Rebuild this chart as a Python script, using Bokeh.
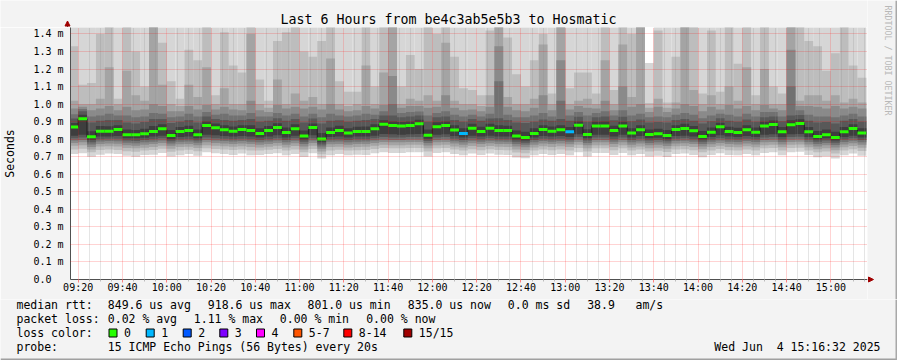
import math
from bokeh.plotting import figure
from bokeh.layouts import column, row
from bokeh.models import Range1d, FixedTicker
from bokeh.core.properties import value
from bokeh.embed import file_html
from bokeh.resources import INLINE

# ---------------- data (milliseconds) ----------------
graph_start = "09:16:32"
graph_hours = 6
first_bar = "09:16"
bar_minutes = 4

median = [0.869, 0.916, 0.814, 0.846, 0.846, 0.855, 0.825, 0.825, 0.831, 0.844,
          0.859, 0.821, 0.844, 0.850, 0.825, 0.878, 0.865, 0.854, 0.846, 0.855,
          0.850, 0.833, 0.850, 0.867, 0.838, 0.859, 0.818, 0.867, 0.801, 0.838,
          0.850, 0.835, 0.844, 0.844, 0.859, 0.886, 0.878, 0.875, 0.878, 0.888,
          0.823, 0.871, 0.878, 0.852, 0.833, 0.863, 0.844, 0.863, 0.850, 0.850,
          0.818, 0.810, 0.833, 0.855, 0.846, 0.854, 0.842, 0.880, 0.827, 0.876,
          0.876, 0.850, 0.875, 0.835, 0.854, 0.827, 0.831, 0.821, 0.855, 0.861,
          0.848, 0.816, 0.840, 0.871, 0.844, 0.838, 0.854, 0.840, 0.875, 0.884,
          0.842, 0.882, 0.890, 0.842, 0.816, 0.825, 0.810, 0.842, 0.861, 0.835]

# number of lost pings per bar
loss = [0] * 44 + [1] + [0] * 11 + [1] + [0] * 33

ping01 = [0.715, 0.720, 0.700, 0.712, 0.718, 0.715, 0.705, 0.700, 0.710, 0.712,
          0.722, 0.702, 0.708, 0.715, 0.705, 0.725, 0.720, 0.716, 0.710, 0.718,
          0.708, 0.710, 0.716, 0.720, 0.708, 0.716, 0.698, 0.720, 0.690, 0.708,
          0.715, 0.708, 0.712, 0.710, 0.720, 0.726, 0.722, 0.722, 0.726, 0.726,
          0.702, 0.722, 0.726, 0.715, 0.708, 0.718, 0.710, 0.718, 0.712, 0.710,
          0.696, 0.692, 0.708, 0.716, 0.710, 0.716, 0.708, 0.726, 0.702, 0.722,
          0.722, 0.710, 0.722, 0.708, 0.715, 0.702, 0.706, 0.698, 0.716, 0.718,
          0.710, 0.697, 0.710, 0.720, 0.710, 0.708, 0.716, 0.708, 0.722, 0.726,
          0.708, 0.726, 0.728, 0.710, 0.697, 0.702, 0.690, 0.708, 0.718, 0.706]
ping02 = [0.742, 0.745, 0.725, 0.738, 0.742, 0.738, 0.732, 0.728, 0.735, 0.738,
          0.745, 0.728, 0.736, 0.740, 0.732, 0.748, 0.744, 0.742, 0.738, 0.742,
          0.736, 0.735, 0.740, 0.744, 0.735, 0.742, 0.725, 0.744, 0.714, 0.736,
          0.740, 0.735, 0.737, 0.738, 0.744, 0.750, 0.748, 0.748, 0.750, 0.750,
          0.730, 0.748, 0.750, 0.741, 0.735, 0.743, 0.737, 0.743, 0.738, 0.737,
          0.724, 0.720, 0.735, 0.742, 0.737, 0.742, 0.736, 0.750, 0.730, 0.748,
          0.748, 0.737, 0.748, 0.735, 0.741, 0.730, 0.734, 0.727, 0.742, 0.743,
          0.737, 0.725, 0.736, 0.744, 0.737, 0.736, 0.742, 0.735, 0.748, 0.750,
          0.735, 0.750, 0.752, 0.736, 0.725, 0.730, 0.719, 0.735, 0.743, 0.733]
ping03 = [0.762, 0.766, 0.742, 0.758, 0.760, 0.758, 0.750, 0.748, 0.752, 0.756,
          0.762, 0.746, 0.755, 0.757, 0.750, 0.766, 0.762, 0.760, 0.757, 0.760,
          0.756, 0.753, 0.757, 0.762, 0.753, 0.761, 0.742, 0.762, 0.730, 0.755,
          0.757, 0.753, 0.756, 0.757, 0.762, 0.768, 0.766, 0.766, 0.768, 0.768,
          0.748, 0.766, 0.768, 0.759, 0.753, 0.761, 0.756, 0.761, 0.757, 0.756,
          0.742, 0.738, 0.753, 0.760, 0.756, 0.760, 0.755, 0.768, 0.749, 0.766,
          0.766, 0.756, 0.766, 0.753, 0.759, 0.749, 0.752, 0.745, 0.760, 0.761,
          0.756, 0.743, 0.755, 0.762, 0.756, 0.754, 0.760, 0.754, 0.766, 0.768,
          0.754, 0.768, 0.770, 0.754, 0.743, 0.749, 0.737, 0.754, 0.761, 0.752]
ping04 = [0.778, 0.782, 0.756, 0.773, 0.776, 0.774, 0.766, 0.763, 0.768, 0.772,
          0.778, 0.762, 0.771, 0.773, 0.766, 0.782, 0.778, 0.776, 0.773, 0.776,
          0.772, 0.769, 0.773, 0.778, 0.769, 0.777, 0.758, 0.778, 0.745, 0.771,
          0.773, 0.769, 0.772, 0.773, 0.778, 0.784, 0.782, 0.782, 0.784, 0.784,
          0.764, 0.782, 0.784, 0.775, 0.769, 0.777, 0.772, 0.777, 0.773, 0.772,
          0.758, 0.754, 0.769, 0.776, 0.772, 0.776, 0.771, 0.784, 0.765, 0.782,
          0.782, 0.772, 0.782, 0.769, 0.775, 0.765, 0.768, 0.761, 0.776, 0.777,
          0.772, 0.759, 0.771, 0.778, 0.772, 0.770, 0.776, 0.770, 0.782, 0.784,
          0.770, 0.784, 0.786, 0.770, 0.759, 0.765, 0.753, 0.770, 0.777, 0.768]
ping05 = [0.792, 0.796, 0.770, 0.787, 0.790, 0.788, 0.780, 0.777, 0.782, 0.786,
          0.792, 0.776, 0.785, 0.787, 0.780, 0.796, 0.792, 0.790, 0.787, 0.790,
          0.786, 0.783, 0.787, 0.792, 0.783, 0.791, 0.772, 0.792, 0.758, 0.785,
          0.787, 0.783, 0.786, 0.787, 0.792, 0.798, 0.796, 0.796, 0.798, 0.798,
          0.778, 0.796, 0.798, 0.789, 0.783, 0.791, 0.786, 0.791, 0.787, 0.786,
          0.772, 0.768, 0.783, 0.790, 0.786, 0.790, 0.785, 0.798, 0.779, 0.796,
          0.796, 0.786, 0.796, 0.783, 0.789, 0.779, 0.782, 0.775, 0.790, 0.791,
          0.786, 0.773, 0.785, 0.792, 0.786, 0.784, 0.790, 0.784, 0.796, 0.798,
          0.784, 0.798, 0.800, 0.784, 0.773, 0.779, 0.767, 0.784, 0.791, 0.782]
ping06 = [0.805, 0.810, 0.782, 0.800, 0.802, 0.802, 0.792, 0.790, 0.795, 0.800,
          0.805, 0.788, 0.798, 0.800, 0.792, 0.810, 0.806, 0.803, 0.800, 0.803,
          0.800, 0.796, 0.800, 0.806, 0.796, 0.805, 0.785, 0.806, 0.770, 0.798,
          0.800, 0.796, 0.800, 0.800, 0.805, 0.812, 0.810, 0.810, 0.812, 0.812,
          0.790, 0.810, 0.812, 0.802, 0.796, 0.805, 0.800, 0.805, 0.800, 0.800,
          0.785, 0.780, 0.796, 0.803, 0.800, 0.803, 0.798, 0.812, 0.792, 0.810,
          0.810, 0.800, 0.810, 0.796, 0.803, 0.792, 0.795, 0.788, 0.803, 0.805,
          0.800, 0.786, 0.798, 0.806, 0.800, 0.798, 0.803, 0.798, 0.810, 0.812,
          0.798, 0.812, 0.814, 0.798, 0.786, 0.792, 0.780, 0.798, 0.805, 0.796]
ping07 = [0.820, 0.825, 0.795, 0.815, 0.815, 0.818, 0.805, 0.805, 0.808, 0.815,
          0.820, 0.800, 0.812, 0.815, 0.805, 0.825, 0.822, 0.818, 0.815, 0.818,
          0.815, 0.810, 0.815, 0.822, 0.810, 0.820, 0.798, 0.822, 0.782, 0.812,
          0.815, 0.810, 0.815, 0.815, 0.820, 0.830, 0.828, 0.825, 0.828, 0.830,
          0.802, 0.825, 0.828, 0.818, 0.810, 0.820, 0.815, 0.820, 0.815, 0.815,
          0.798, 0.792, 0.810, 0.818, 0.815, 0.818, 0.812, 0.828, 0.805, 0.825,
          0.825, 0.815, 0.825, 0.810, 0.818, 0.805, 0.808, 0.800, 0.818, 0.820,
          0.815, 0.798, 0.812, 0.822, 0.815, 0.812, 0.818, 0.812, 0.825, 0.828,
          0.812, 0.828, 0.830, 0.812, 0.798, 0.805, 0.792, 0.812, 0.820, 0.810]
ping09 = [0.892, 0.940, 0.846, 0.875, 0.874, 0.880, 0.855, 0.853, 0.860, 0.875,
          0.886, 0.852, 0.870, 0.877, 0.855, 0.901, 0.890, 0.880, 0.873, 0.880,
          0.880, 0.862, 0.876, 0.891, 0.867, 0.886, 0.850, 0.890, 0.835, 0.867,
          0.877, 0.863, 0.871, 0.873, 0.886, 0.908, 0.901, 0.898, 0.901, 0.911,
          0.855, 0.896, 0.901, 0.880, 0.862, 0.888, 0.871, 0.888, 0.880, 0.877,
          0.850, 0.843, 0.862, 0.880, 0.873, 0.880, 0.870, 0.901, 0.857, 0.899,
          0.901, 0.877, 0.899, 0.863, 0.880, 0.855, 0.860, 0.853, 0.880, 0.888,
          0.875, 0.847, 0.867, 0.894, 0.871, 0.865, 0.880, 0.867, 0.899, 0.906,
          0.870, 0.908, 0.914, 0.870, 0.847, 0.855, 0.843, 0.870, 0.886, 0.863]
ping10 = [0.918, 0.960, 0.895, 0.905, 0.910, 0.910, 0.895, 0.890, 0.898, 0.915,
          0.915, 0.892, 0.900, 0.910, 0.895, 0.930, 0.915, 0.910, 0.905, 0.910,
          0.915, 0.900, 0.905, 0.920, 0.905, 0.915, 0.895, 0.918, 0.890, 0.905,
          0.908, 0.900, 0.905, 0.910, 0.915, 0.935, 0.935, 0.925, 0.930, 0.935,
          0.900, 0.925, 0.930, 0.910, 0.900, 0.915, 0.905, 0.918, 0.920, 0.910,
          0.895, 0.892, 0.900, 0.912, 0.905, 0.915, 0.905, 0.928, 0.900, 0.925,
          0.930, 0.908, 0.928, 0.902, 0.912, 0.895, 0.898, 0.895, 0.910, 0.915,
          0.905, 0.890, 0.902, 0.920, 0.905, 0.900, 0.912, 0.900, 0.925, 0.930,
          0.902, 0.935, 0.938, 0.905, 0.895, 0.898, 0.890, 0.905, 0.915, 0.900]
ping11 = [0.942, 0.972, 0.930, 0.935, 0.945, 0.935, 0.935, 0.925, 0.930, 0.950,
          0.945, 0.925, 0.930, 0.945, 0.930, 0.955, 0.940, 0.945, 0.935, 0.935,
          0.950, 0.930, 0.930, 0.950, 0.935, 0.945, 0.930, 0.945, 0.925, 0.945,
          0.935, 0.930, 0.935, 0.945, 0.940, 0.960, 1.000, 0.950, 0.955, 0.958,
          0.935, 0.950, 0.960, 0.940, 0.930, 0.940, 0.930, 0.945, 1.130, 0.940,
          0.925, 0.925, 0.935, 0.950, 0.930, 1.020, 0.935, 0.955, 0.935, 0.950,
          0.960, 0.935, 0.965, 0.935, 0.945, 0.925, 0.930, 0.925, 0.940, 0.950,
          0.940, 0.920, 0.935, 0.945, 0.940, 0.930, 0.945, 0.930, 0.955, 0.955,
          0.930, 1.100, 0.965, 0.940, 0.930, 0.930, 0.925, 0.935, 0.945, 0.930]
ping12 = [0.975, 0.985, 0.965, 0.975, 0.990, 0.965, 0.985, 0.965, 0.970, 1.000,
          0.990, 0.960, 0.960, 0.990, 0.970, 0.995, 0.970, 0.985, 0.970, 0.965,
          1.020, 0.965, 0.955, 0.995, 0.975, 0.985, 0.975, 0.985, 0.970, 1.000,
          0.970, 0.960, 0.965, 0.990, 0.975, 0.995, 1.160, 0.980, 0.990, 0.990,
          0.980, 0.985, 1.050, 0.980, 0.965, 0.970, 0.960, 0.985, 1.330, 0.985,
          0.965, 0.960, 0.980, 1.050, 0.965, 1.250, 0.970, 0.990, 0.980, 0.975,
          1.020, 0.965, 1.100, 0.985, 1.000, 0.955, 0.985, 0.955, 0.975, 1.000,
          0.990, 0.960, 0.985, 0.970, 0.995, 0.975, 0.990, 0.965, 0.995, 0.975,
          0.965, 1.310, 0.990, 0.990, 0.985, 0.975, 0.990, 0.975, 0.985, 0.975]
ping13 = [1.02, 1.00, 1.00, 1.03, 1.21, 1.00, 1.19, 1.05, 1.02, 1.60,
          1.11, 1.00, 0.99, 1.11, 1.04, 1.21, 1.00, 1.09, 1.00, 1.00,
          1.40, 1.00, 0.98, 1.14, 1.00, 1.06, 1.02, 1.04, 1.00, 1.26,
          1.00, 0.99, 1.00, 1.22, 1.00, 1.18, 1.60, 1.00, 1.03, 1.02,
          1.05, 1.02, 1.35, 1.02, 1.00, 1.00, 0.99, 1.05, 1.60, 1.04,
          1.00, 1.00, 1.03, 1.34, 1.00, 1.60, 1.00, 1.02, 1.03, 1.00,
          1.25, 1.00, 1.34, 1.04, 1.60, 0.98, 1.03, 0.98, 1.01, 1.60,
          1.08, 1.00, 1.05, 1.00, 1.10, 1.02, 1.21, 1.00, 1.20, 1.00,
          1.00, 1.60, 1.02, 1.05, 1.05, 1.02, 1.05, 1.01, 1.03, 1.01]
ping14 = [1.33, 1.11, 1.12, 1.40, 1.60, 1.03, 1.60, 1.30, 1.10, 1.60,
          1.35, 1.13, 1.03, 1.31, 1.25, 1.45, 1.05, 1.41, 1.22, 1.18,
          1.60, 1.14, 1.02, 1.36, 1.41, 1.60, 1.30, 1.27, 1.36, 1.60,
          1.13, 1.07, 1.07, 1.60, 1.10, 1.60, 1.60, 1.10, 1.28, 1.20,
          1.60, 1.40, 1.60, 1.27, 1.09, 1.08, 1.05, 1.42, 1.60, 1.38,
          1.17, 1.10, 1.25, 1.40, 1.06, 1.60, 1.09, 1.18, 1.18, 1.06,
          1.60, 1.08, 1.60, 1.40, 1.60, 1.007, 1.42, 1.01, 1.27, 1.60,
          1.60, 1.06, 1.42, 1.07, 1.60, 1.23, 1.60, 1.05, 1.60, 1.10,
          1.06, 1.60, 1.60, 1.36, 1.33, 1.19, 1.29, 1.60, 1.22, 1.15]
ping15 = [1.60] * 65 + [1.235] + [1.60] * 24

x_tick_labels = ["09:20", "09:40", "10:00", "10:20", "10:40", "11:00", "11:20", "11:40", "12:00",
                 "12:20", "12:40", "13:00", "13:20", "13:40", "14:00", "14:20", "14:40", "15:00"]
y_ticks = [0.0, 0.1, 0.2, 0.3, 0.4, 0.5, 0.6, 0.7, 0.8, 0.9, 1.0, 1.1, 1.2, 1.3, 1.4]
y_tick_labels = ["0.0\u00a0\u00a0", "0.1 m", "0.2 m", "0.3 m", "0.4 m", "0.5 m", "0.6 m", "0.7 m",
                 "0.8 m", "0.9 m", "1.0 m", "1.1 m", "1.2 m", "1.3 m", "1.4 m"]

title_text = "Last 6 Hours from be4c3ab5e5b3 to Hosmatic"
y_axis_title = "Seconds"
watermark = "RRDTOOL / TOBI OETIKER"
legend_rtt = [("median rtt:", 16), ("849.6 us avg", 107.3), ("918.6 us max", 207.3),
              ("801.0 us min", 307.0), ("835.0 us now", 407.3), ("0.0 ms sd", 507.3),
              ("38.9", 586.7), ("am/s", 635.0)]
legend_loss = [("packet loss:", 16), ("0.02 % avg", 107.3), ("1.11 % max", 193.3),
               ("0.00 % min", 279.3), ("0.00 % now", 365.7)]
loss_names = ["0", "1", "2", "3", "4", "5-7", "8-14", "15/15"]
loss_colors = ["#26ff00", "#00b8ff", "#0059ff", "#7e00ff", "#ff00ff", "#ff5500", "#ff0000", "#a00000"]
probe_label = "probe:"
probe_text = "15 ICMP Echo Pings (56 Bytes) every 20s"
date_text = "Wed Jun\u00a0 4 15:16:32 2025"

# ---------------- layout constants (pixels) ----------------
FONT = "DejaVu Sans Mono"
BG = "#f3f3f3"
W, H = 897, 360
TOP_H = 27           # title strip
MAIN_H = 272         # plot strip (frame 252 + 20 for tick labels)
LEG_H = H - TOP_H - MAIN_H
LEFT_W = 867         # main figure width (frame 67..867)
RIGHT_W = W - LEFT_W
FRAME_L = 67
FRAME_W = 800
FRAME_H = 252
Y_TOP = 1.437


def up(py):
    # absolute pixel row -> y measured upward from page bottom
    return H - py


def to_min(s):
    parts = [int(v) for v in s.split(":")]
    return parts[0] * 60 + parts[1] + (parts[2] / 60.0 if len(parts) > 2 else 0.0)


def no_align(f):
    if "frame_align" in f.properties():
        f.frame_align = False


def deco_fig(w, h, x0, x1, y0, y1):
    f = figure(width=w, height=h, output_backend="svg", toolbar_location=None,
               x_axis_type=None, y_axis_type=None, x_range=Range1d(x0, x1), y_range=Range1d(y0, y1),
               min_border=0, min_border_left=0, min_border_right=0, min_border_top=0, min_border_bottom=0)
    f.outline_line_color = None
    f.background_fill_color = BG
    f.border_fill_color = BG
    no_align(f)
    return f


x_lo = to_min(graph_start)
x_hi = x_lo + graph_hours * 60
starts = [to_min(first_bar) + i * bar_minutes for i in range(len(median))]
ends = [s + bar_minutes for s in starts]

# ---------------- main plot ----------------
p = figure(width=LEFT_W, height=MAIN_H, output_backend="svg", toolbar_location=None,
           x_range=Range1d(x_lo, x_hi), y_range=Range1d(0, Y_TOP),
           min_border_left=FRAME_L, min_border_right=0, min_border_top=0,
           min_border_bottom=MAIN_H - FRAME_H)
p.border_fill_color = BG
p.background_fill_color = "white"
p.outline_line_color = None
no_align(p)

lower = [ping01, ping02, ping03, ping04, ping05, ping06, ping07]
upper = [ping15, ping14, ping13, ping12, ping11, ping10, ping09]
smoke_colors = ["#d6d6d6", "#bdbdbd", "#a4a4a4", "#8a8a8a", "#717171", "#585858", "#3e3e3e"]
for lo, hi, c in zip(lower, upper, smoke_colors):
    p.quad(left=starts, right=ends, bottom=lo, top=hi, fill_color=c, line_color=None)

p.step(x=starts + [ends[-1]], y=median + [median[-1]], mode="after", line_color="#202020", line_width=1)
seg_colors = [loss_colors[n] for n in loss]
p.segment(x0=starts, x1=ends, y0=median, y1=median, line_color=seg_colors, line_width=3)

major_x = [to_min(t) for t in x_tick_labels]
minor_x = [m for m in range(int(x_lo) + 1, int(x_hi) + 1) if m % 5 == 0 and m not in major_x]
xt = FixedTicker(ticks=major_x, minor_ticks=minor_x)
yt = FixedTicker(ticks=y_ticks, minor_ticks=[])
p.xaxis.ticker = xt
p.xgrid.ticker = xt
p.yaxis.ticker = yt
p.ygrid.ticker = yt
p.xaxis.major_label_overrides = {v: t for v, t in zip(major_x, x_tick_labels)}
p.yaxis.major_label_overrides = {v: t for v, t in zip(y_ticks, y_tick_labels)}

for g in (p.xgrid, p.ygrid):
    g.grid_line_color = "#ff0000"
    g.grid_line_alpha = 0.35
    g.grid_line_dash = "1 1"
    g.level = "guide"
p.xgrid.minor_grid_line_color = "#8c8c8c"
p.xgrid.minor_grid_line_alpha = 0.45
p.xgrid.minor_grid_line_dash = "1 1"

for ax in (p.xaxis, p.yaxis):
    ax.axis_line_color = "#505050"
    ax.axis_line_width = 1
    ax.major_label_text_font = FONT
    ax.major_label_text_font_size = "10px"
    ax.major_label_text_color = "black"
p.xaxis.major_tick_out = 3
p.xaxis.major_tick_in = 0
p.xaxis.major_tick_line_color = "#ff8080"
p.xaxis.minor_tick_out = 2
p.xaxis.minor_tick_in = 0
p.xaxis.minor_tick_line_color = "#bbbbbb"
p.xaxis.major_label_standoff = -1
p.yaxis.major_tick_out = 0
p.yaxis.major_tick_in = 0
p.yaxis.minor_tick_line_color = None
p.yaxis.major_label_standoff = 7
p.yaxis.axis_label = y_axis_title
p.yaxis.axis_label_text_font = FONT
p.yaxis.axis_label_text_font_size = "11.5px"
p.yaxis.axis_label_text_font_style = "normal"
p.yaxis.axis_label_text_color = "black"
p.yaxis.axis_label_standoff = 13

# ---------------- title strip ----------------
top = deco_fig(LEFT_W, TOP_H, 0, LEFT_W, up(TOP_H), H)
top.text(x=[448], y=[up(19)], text=[title_text], text_font=value(FONT), text_font_size=value("13.3px"),
         text_align="center", text_baseline="middle", text_color="black")
top.segment(x0=[FRAME_L], y0=[up(TOP_H)], x1=[FRAME_L], y1=[up(24)], line_color="#505050", line_width=1)
top.patch(x=[FRAME_L - 2.5, FRAME_L, FRAME_L + 2.5], y=[up(25.5), up(20.5), up(25.5)],
          fill_color="#a00000", line_color="#a00000", line_width=1)

# ---------------- right strip ----------------
right = deco_fig(RIGHT_W, TOP_H + MAIN_H, LEFT_W, W, up(TOP_H + MAIN_H), H)
right.text(x=[887.5], y=[up(5)], text=[watermark], angle=-math.pi / 2, text_font=value(FONT),
           text_font_size=value("8.3px"), text_align="left", text_baseline="middle", text_color="#b8b8b8")
right.segment(x0=[LEFT_W], y0=[up(279)], x1=[869], y1=[up(279)], line_color="#505050", line_width=1)
right.patch(x=[868, 873, 868], y=[up(276.5), up(279), up(281.5)],
            fill_color="#a00000", line_color="#a00000", line_width=1)
right.segment(x0=[896], y0=[up(0)], x1=[896], y1=[up(TOP_H + MAIN_H)], line_color="#a8a8a8", line_width=2)

# ---------------- legend strip ----------------
leg = deco_fig(W, LEG_H, 0, W, 0, LEG_H)
rows_y = [up(304), up(318), up(332), up(346)]
tx, ty, tt = [], [], []
for t, px in legend_rtt:
    tx.append(px); ty.append(rows_y[0]); tt.append(t)
for t, px in legend_loss:
    tx.append(px); ty.append(rows_y[1]); tt.append(t)
tx.append(16); ty.append(rows_y[2]); tt.append("loss color:")
box_x = [108.5, 145.7, 182.7, 219.3, 256.0, 293.3, 343.3, 403.3]
for name, bx in zip(loss_names, box_x):
    tx.append(bx + 15); ty.append(rows_y[2]); tt.append(name)
tx += [16, 107.3]; ty += [rows_y[3], rows_y[3]]; tt += [probe_label, probe_text]
leg.text(x=tx, y=ty, text=tt, text_font=value(FONT), text_font_size=value("11.5px"),
         text_align="left", text_baseline="middle", text_color="black")
leg.text(x=[880], y=[rows_y[3]], text=[date_text], text_font=value(FONT), text_font_size=value("11.5px"),
         text_align="right", text_baseline="middle", text_color="black")
leg.quad(left=box_x, right=[b + 8 for b in box_x], top=[up(328.5)] * len(box_x),
         bottom=[up(336.5)] * len(box_x), fill_color=loss_colors, line_color="black", line_width=1)
leg.segment(x0=[0], y0=[up(359)], x1=[W], y1=[up(359)], line_color="#a0a0a0", line_width=2)
leg.segment(x0=[896], y0=[0], x1=[896], y1=[LEG_H], line_color="#a8a8a8", line_width=2)

layout = column(row(column(top, p), right), leg)
open("out.html", "w").write(file_html(layout, INLINE))
